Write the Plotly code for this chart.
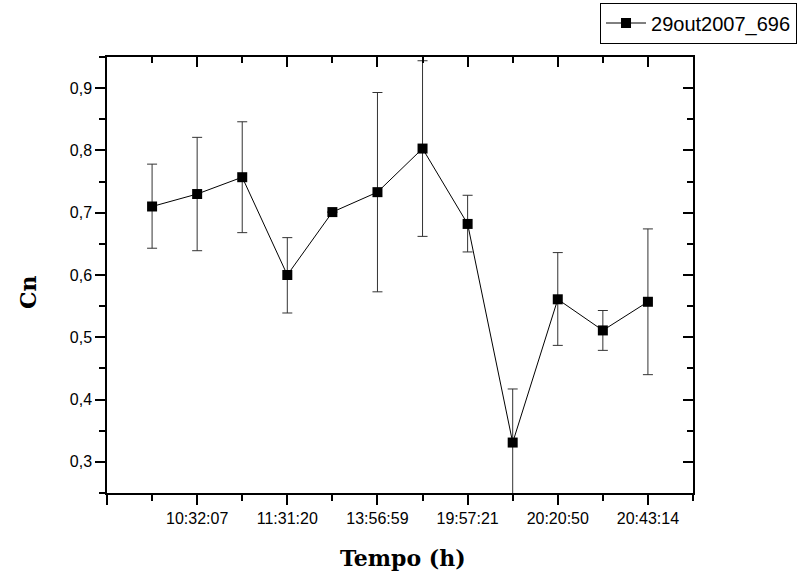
import plotly.graph_objects as go

# Data
x_pos = list(range(1, 13))
cn_values = [0.710, 0.730, 0.757, 0.600, 0.701, 0.733, 0.803, 0.682, 0.331, 0.561, 0.511, 0.557]
err_plus = [0.068, 0.091, 0.089, 0.060, 0.0, 0.160, 0.141, 0.046, 0.086, 0.075, 0.032, 0.117]
err_minus = [0.067, 0.091, 0.089, 0.061, 0.0, 0.160, 0.141, 0.045, 0.086, 0.074, 0.032, 0.117]
tick_positions = [0, 2, 4, 6, 8, 10, 12]
tick_labels = ["", "10:32:07", "11:31:20", "13:56:59", "19:57:21", "20:20:50", "20:43:14"]
series_name = "29out2007_696"

tick_font = dict(family="Liberation Sans, Arial, sans-serif", size=16, color="black")
title_font = dict(family="DejaVu Serif, serif", size=22, color="black")

fig = go.Figure()
fig.add_trace(go.Scatter(
    x=x_pos, y=cn_values, mode="lines+markers", name=series_name,
    line=dict(color="black", width=1),
    marker=dict(symbol="square", size=10, color="black"),
    error_y=dict(type="data", symmetric=False, array=err_plus, arrayminus=err_minus,
                 color="#333333", thickness=1, width=5),
))
# invisible trace to activate the mirrored (inner tick) axes
fig.add_trace(go.Scatter(
    x=x_pos, y=cn_values, mode="markers", xaxis="x2", yaxis="y2",
    marker=dict(opacity=0), showlegend=False, hoverinfo="skip",
))

xr = [0, 13]
yr = [0.25, 0.95]

fig.update_layout(
    width=800, height=572,
    margin=dict(l=107, r=107, t=57, b=79, autoexpand=False),
    paper_bgcolor="white", plot_bgcolor="white",
    separators=",.",
    showlegend=True,
    legend=dict(x=1.1775, y=1.125, xanchor="right", yanchor="top",
                bordercolor="black", borderwidth=1, bgcolor="white",
                font=dict(family="Liberation Sans, Arial, sans-serif", size=20, color="black"),
                itemwidth=40),
    xaxis=dict(range=xr, tickmode="array", tickvals=tick_positions, ticktext=tick_labels,
               ticks="outside", ticklen=10, tickwidth=1.5, tickcolor="black",
               showline=True, linecolor="black", linewidth=1.5, showgrid=False, zeroline=False,
               tickfont=tick_font,
               minor=dict(tickmode="linear", tick0=0, dtick=1, ticks="outside", ticklen=6,
                          tickwidth=1.5, tickcolor="black", showgrid=False)),
    yaxis=dict(range=yr, tickmode="linear", tick0=0.3, dtick=0.1, tickformat=".1f",
               ticks="outside", ticklen=10, tickwidth=1.5, tickcolor="black",
               showline=True, linecolor="black", linewidth=1.5, showgrid=False, zeroline=False,
               tickfont=tick_font,
               minor=dict(tickmode="linear", tick0=0.25, dtick=0.05, ticks="outside", ticklen=6,
                          tickwidth=1.5, tickcolor="black", showgrid=False)),
    xaxis2=dict(range=xr, overlaying="x", side="top", anchor="y", tickmode="array",
                tickvals=tick_positions, showticklabels=False,
                ticks="inside", ticklen=10, tickwidth=1.5, tickcolor="black",
                showline=True, linecolor="black", linewidth=1.5, showgrid=False, zeroline=False,
                minor=dict(tickmode="linear", tick0=0, dtick=1, ticks="inside", ticklen=6,
                           tickwidth=1.5, tickcolor="black", showgrid=False)),
    yaxis2=dict(range=yr, overlaying="y", side="right", anchor="x", tickmode="linear",
                tick0=0.3, dtick=0.1, showticklabels=False,
                ticks="inside", ticklen=10, tickwidth=1.5, tickcolor="black",
                showline=True, linecolor="black", linewidth=1.5, showgrid=False, zeroline=False,
                minor=dict(tickmode="linear", tick0=0.25, dtick=0.05, ticks="inside", ticklen=6,
                           tickwidth=1.5, tickcolor="black", showgrid=False)),
    annotations=[
        dict(text="<b>Tempo (h)</b>", xref="paper", yref="paper", x=0.505, y=-0.149,
             xanchor="center", yanchor="middle", showarrow=False, font=title_font),
        dict(text="<b>Cn</b>", xref="paper", yref="paper", x=-0.135, y=0.461,
             xanchor="center", yanchor="middle", showarrow=False, textangle=-90, font=title_font),
    ],
)

fig.write_html("out.html")
